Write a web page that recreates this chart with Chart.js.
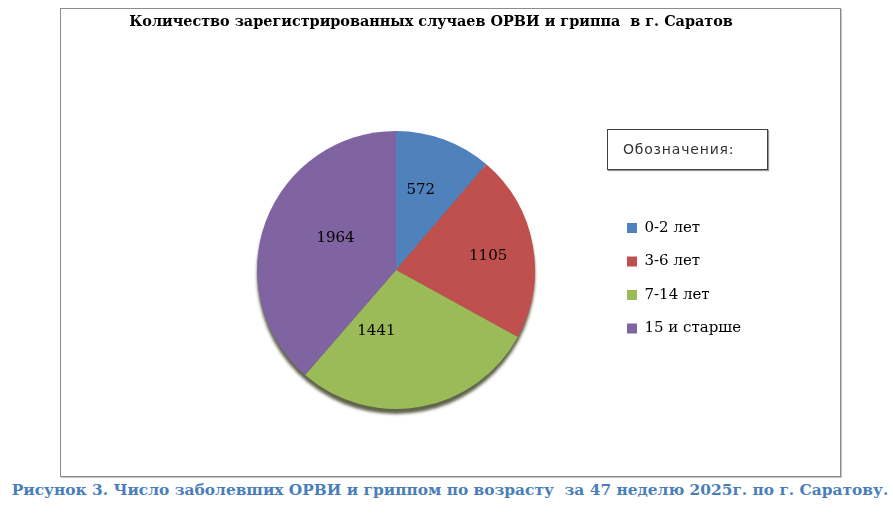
<!DOCTYPE html>
<html lang="ru">
<head>
<meta charset="utf-8">
<title>ОРВИ и грипп, г. Саратов</title>
<script src="https://cdn.jsdelivr.net/npm/chart.js@4.4.1/dist/chart.umd.min.js"></script>
<style>
    html, body { margin: 0; padding: 0; background: #fff; }
    body { width: 893px; height: 516px; position: relative; overflow: hidden; }
    #frame {
        position: absolute; left: 60px; top: 8px;
        width: 779px; height: 467px;
        border: 1px solid #8c8c8c;
        box-shadow: 1px 1px 0 #c4c4c4;
    }
    #frame canvas { position: absolute; left: 0; top: 0; }
    #legendTitle {
        position: absolute; left: 607px; top: 129px;
        width: 144px; height: 39px;
        padding-left: 15px;
        border: 1px solid #404040;
        box-shadow: 1px 1px 1px #9a9a9a;
        font: 14px "DejaVu Sans", sans-serif;
        letter-spacing: 0.8px;
        color: #333;
        line-height: 39px;
    }
    #caption {
        position: absolute; left: 0; top: 481px; width: 900px;
        text-align: center;
        font: bold 15.4px "DejaVu Serif", serif;
        line-height: 18px;
        color: #4a7ebb;
        white-space: nowrap;
    }
</style>
</head>
<body>
<div id="frame">
    <canvas id="myChart" width="779" height="467"></canvas>
</div>
<div id="legendTitle">Обозначения:</div>
<div id="caption">Рисунок 3. Число заболевших ОРВИ и гриппом по возрасту&nbsp; за 47 неделю 2025г. по г. Саратову.</div>

<script>
var chart_title = 'Количество зарегистрированных случаев ОРВИ и гриппа  в г. Саратов';
var age_groups = ['0-2 лет', '3-6 лет', '7-14 лет', '15 и старше'];
var cases = [572, 1105, 1441, 1964];
var slice_colors = ['#4f81bd', '#c0504d', '#9bbb59', '#8064a2'];

var serif = '"DejaVu Serif", serif';

// тень под кругом (имитация объёма как в Excel)
var pieShadow = {
    id: 'pieShadow',
    beforeDatasetsDraw: function (chart) {
        var arc = chart.getDatasetMeta(0).data[0];
        if (!arc) return;
        var ctx = chart.ctx;
        ctx.save();
        ctx.filter = 'blur(1.5px)';
        ctx.fillStyle = 'rgba(55, 60, 30, 0.8)';
        ctx.beginPath();
        ctx.arc(arc.x, arc.y + 5, arc.outerRadius, 0, Math.PI * 2);
        ctx.fill();
        ctx.restore();
    }
};

// подписи значений на секторах
var sliceLabels = {
    id: 'sliceLabels',
    afterDatasetsDraw: function (chart, args, opts) {
        var ctx = chart.ctx;
        var meta = chart.getDatasetMeta(0);
        var values = chart.data.datasets[0].data;
        ctx.save();
        ctx.font = opts.font;
        ctx.fillStyle = opts.color;
        ctx.textAlign = 'center';
        ctx.textBaseline = 'middle';
        meta.data.forEach(function (arc, i) {
            var a = (arc.startAngle + arc.endAngle) / 2 + (opts.angleShift[i] || 0) * Math.PI / 180;
            var r = arc.outerRadius * opts.radius[i];
            ctx.fillText(String(values[i]), arc.x + Math.cos(a) * r, arc.y + Math.sin(a) * r);
        });
        ctx.restore();
    }
};

// фиксированная ширина легенды (иначе текст обрезается)
var legendWidth = {
    id: 'legendWidth',
    afterInit: function (chart, args, opts) {
        var lg = chart.legend;
        var fit = lg.fit;
        lg.fit = function () {
            fit.call(lg);
            lg.width = opts.width;
        };
    }
};

// заголовок в Excel сдвинут левее центра области; блок расширен, чтобы текст не сжимался
var titleShift = {
    id: 'titleShift',
    afterLayout: function (chart, args, opts) {
        chart.titleBlock.left += opts.dx - opts.grow;
        chart.titleBlock.right += opts.dx + opts.grow;
    }
};

var ctx = document.getElementById('myChart').getContext('2d');
var config = {
    type: 'pie',
    data: {
        labels: age_groups,
        datasets: [{
            data: cases,
            backgroundColor: slice_colors,
            borderWidth: 0,
            radius: 139,
            clip: false
        }]
    },
    options: {
        responsive: false,
        animation: false,
        events: [],
        layout: {
            padding: { left: 122.5, right: 81.5, top: 0, bottom: 121.4 }
        },
        plugins: {
            title: {
                display: true,
                text: chart_title,
                color: '#000',
                font: { family: serif, size: 14.4, weight: 'bold' },
                padding: { top: 4.7, bottom: 154.4 }
            },
            legend: {
                position: 'right',
                align: 'end',
                labels: {
                    boxWidth: 10,
                    boxHeight: 10,
                    padding: 18.5,
                    color: '#000',
                    font: { family: serif, size: 15 }
                }
            },
            tooltip: { enabled: false },
            legendWidth: { width: 150 },
            titleShift: { dx: -40, grow: 60 },
            sliceLabels: {
                font: '15px ' + serif,
                color: '#000',
                radius: [0.6, 0.67, 0.46, 0.49],
                angleShift: [-3, 2, 28, 7]
            }
        }
    },
    plugins: [legendWidth, titleShift, pieShadow, sliceLabels]
};

var chart = new Chart(ctx, config);
</script>
</body>
</html>
